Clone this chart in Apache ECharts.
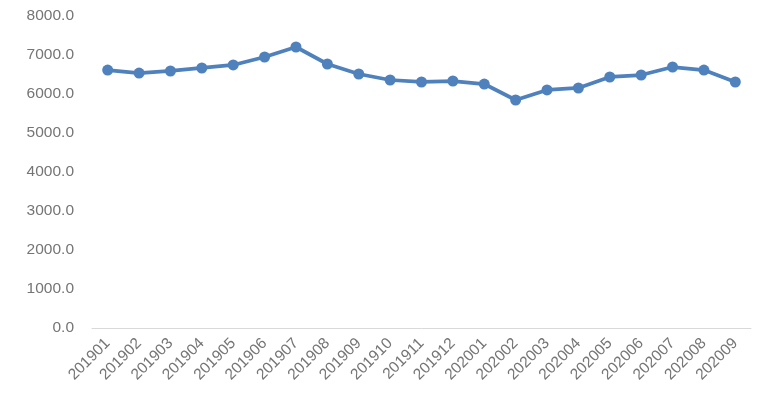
<!DOCTYPE html>
<html>
<head>
<meta charset="utf-8">
<script src="https://cdn.jsdelivr.net/npm/echarts@6/dist/echarts.min.js"></script>
<style>
  html, body { margin: 0; padding: 0; background: #fff; }
  #main { width: 761px; height: 396px; }
</style>
</head>
<body>
<div id="main"></div>
<script>
  // 月份
  const months = ['201901', '201902', '201903', '201904', '201905', '201906', '201907',
    '201908', '201909', '201910', '201911', '201912', '202001', '202002', '202003',
    '202004', '202005', '202006', '202007', '202008', '202009'];
  // 数值
  const values = [6615, 6538, 6590, 6667, 6744, 6949, 7205, 6769, 6513, 6359, 6308,
    6333, 6256, 5846, 6103, 6154, 6436, 6487, 6692, 6615, 6308];

  let chart = echarts.init(document.getElementById('main'));
  chart.setOption({
    animation: false,
    grid: {
      left: 92,
      right: 10,
      top: 16,
      bottom: 68
    },
    xAxis: {
      type: 'category',
      data: months,
      boundaryGap: true,
      axisLine: { lineStyle: { color: '#d9d9d9', width: 1 } },
      axisTick: { show: false },
      axisLabel: {
        rotate: 45,
        color: '#757575',
        fontSize: 15.5,
        fontFamily: 'Liberation Sans',
        margin: 13,
        interval: 0
      }
    },
    yAxis: {
      type: 'value',
      min: 0,
      max: 8000,
      interval: 1000,
      axisLine: { show: false },
      axisTick: { show: false },
      splitLine: { show: false },
      axisLabel: {
        color: '#757575',
        fontSize: 15.5,
        fontFamily: 'Liberation Sans',
        margin: 18,
        formatter: function (v) { return v.toFixed(1); }
      }
    },
    series: [{
      type: 'line',
      data: values,
      symbol: 'circle',
      symbolSize: 11,
      lineStyle: { color: '#4f81bd', width: 3.75 },
      itemStyle: { color: '#4f81bd' }
    }]
  });
</script>
</body>
</html>
